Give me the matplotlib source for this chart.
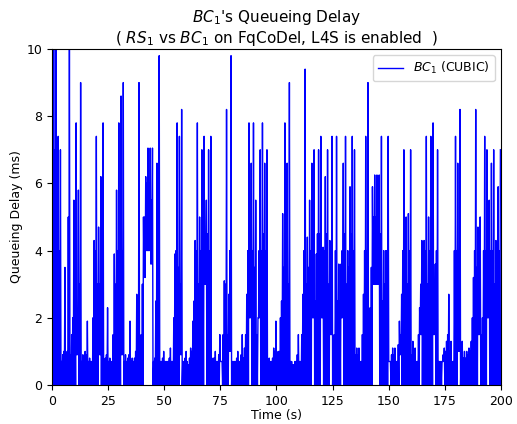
import numpy as np
import matplotlib
matplotlib.use("Agg")
import matplotlib.pyplot as plt

# per-second readings of BC1 queueing delay (ms), t = 0..199 s
time_s = np.arange(200)

# highest spike in each second
peak_ms = [
    10.2, 10.2, 7.4, 7.0, 0.9, 3.5, 1.0, 10.2, 1.5, 5.5,
    7.8, 5.8, 9.0, 0.9, 1.0, 1.9, 0.8, 0.7, 4.3, 7.4,
    4.7, 6.2, 7.8, 0.8, 2.3, 0.8, 0.7, 3.9, 5.8, 7.8,
    8.6, 9.0, 0.9, 0.8, 1.9, 0.8, 0.8, 2.7, 9.0, 1.5,
    5.0, 6.2, 7.05, 7.05, 7.05, 0.8, 6.6, 9.8, 0.7, 1.0,
    0.7, 0.7, 1.1, 0.7, 3.9, 7.8, 7.4, 8.2, 0.7, 1.0,
    0.6, 1.1, 1.9, 4.3, 7.8, 5.0, 7.0, 7.4, 5.5, 7.0,
    7.4, 0.8, 1.0, 0.7, 1.5, 0.7, 3.1, 8.2, 2.7, 9.8,
    0.7, 0.7, 1.0, 0.7, 1.5, 1.1, 2.7, 7.8, 6.6, 7.8,
    5.5, 2.0, 7.0, 7.8, 6.6, 7.0, 0.8, 0.7, 1.1, 1.9,
    1.0, 2.0, 5.1, 7.8, 6.6, 9.0, 0.7, 0.6, 0.7, 1.5,
    0.7, 2.7, 9.4, 4.4, 5.5, 6.6, 7.0, 3.9, 7.0, 7.4,
    4.1, 6.2, 7.0, 4.3, 7.4, 1.5, 7.4, 3.6, 3.6, 6.6,
    7.4, 4.0, 5.9, 7.4, 7.0, 1.1, 1.1, 0.7, 2.7, 7.4,
    9.0, 2.3, 5.9, 6.25, 6.25, 6.25, 7.4, 4.0, 4.0, 7.4,
    0.7, 1.1, 1.1, 0.7, 1.9, 2.7, 7.0, 5.0, 5.1, 7.0,
    1.3, 1.1, 0.7, 2.3, 4.3, 4.3, 7.4, 5.0, 7.4, 7.8,
    3.6, 7.0, 0.7, 0.7, 1.1, 1.3, 2.7, 1.3, 0.7, 7.4,
    6.6, 8.2, 1.3, 1.0, 1.0, 1.1, 1.3, 3.2, 8.2, 4.7,
    5.0, 2.0, 7.4, 7.0, 5.5, 6.6, 7.0, 4.3, 5.9, 7.0,
]

# level reached by the dense jitter in each second
base_ms = [
    7.0, 7.0, 5.0, 4.0, 0.7, 1.0, 0.7, 5.0, 0.9, 2.0,
    3.0, 2.0, 3.0, 0.7, 0.7, 0.9, 0.7, 0.7, 2.0, 4.0,
    3.0, 3.0, 4.0, 0.7, 0.9, 0.7, 0.7, 1.5, 3.0, 4.0,
    4.0, 4.0, 0.7, 0.7, 0.9, 0.7, 0.7, 1.0, 2.0, 0.9,
    3.0, 5.0, 6.0, 6.0, 5.5, 0.7, 2.5, 3.0, 0.7, 0.8,
    0.7, 0.7, 0.8, 0.7, 2.0, 4.0, 3.5, 3.0, 0.7, 0.8,
    0.7, 0.8, 1.0, 2.5, 4.0, 3.0, 4.0, 4.0, 4.5, 4.5,
    4.0, 0.7, 0.8, 0.7, 0.9, 0.7, 1.5, 3.0, 1.5, 4.0,
    0.7, 0.7, 0.8, 0.7, 0.9, 0.8, 1.5, 4.0, 4.0, 4.0,
    3.5, 1.5, 4.0, 4.0, 4.5, 4.0, 0.7, 0.7, 0.8, 1.0,
    0.8, 1.0, 2.5, 3.5, 3.0, 3.0, 0.7, 0.6, 0.7, 0.9,
    0.7, 1.5, 4.0, 3.0, 3.5, 4.0, 4.5, 2.5, 4.5, 4.5,
    3.0, 4.0, 4.5, 3.0, 4.0, 1.0, 4.0, 2.5, 2.5, 4.0,
    4.5, 3.0, 3.5, 4.5, 4.0, 0.9, 0.9, 0.7, 1.5, 4.0,
    4.0, 1.5, 3.5, 5.0, 5.0, 5.0, 4.5, 2.5, 3.0, 4.0,
    0.7, 0.9, 0.9, 0.7, 1.2, 1.5, 4.0, 3.5, 3.0, 4.0,
    0.9, 0.9, 0.7, 1.5, 3.0, 3.0, 4.0, 3.0, 4.0, 4.5,
    2.5, 4.0, 0.7, 0.7, 0.9, 1.0, 1.5, 1.0, 0.7, 4.0,
    4.0, 4.0, 1.0, 0.8, 0.8, 0.9, 1.0, 2.0, 4.0, 3.5,
    3.5, 1.5, 4.0, 4.0, 3.5, 4.0, 4.0, 3.0, 3.5, 4.0,
]

# lowest value in each second
floor_ms = [
    0, 0, 0, 0, 0, 0, 0, 0, 0, 0,
    0, 0.9, 0, 0, 0, 0, 0, 0, 0, 0,
    0, 0.9, 0, 0, 0, 0, 0, 0, 0, 0,
    0, 0.9, 0, 0, 0, 0, 0, 0, 0, 0,
    0, 3.2, 4.0, 4.0, 3.6, 0, 0, 0, 0, 0,
    0, 0, 0, 0, 0, 0, 0, 0.9, 0, 0,
    0, 0, 0, 0, 0, 0, 0, 0, 3.0, 0,
    0, 0, 0, 0, 0, 0.7, 0, 0, 0, 1.0,
    0, 0, 0, 0, 0, 0, 0, 0, 2.0, 0,
    0, 0, 2.0, 0, 0, 0, 0, 0, 0, 0,
    0, 0, 0, 0, 0, 0, 0, 0, 0, 0,
    0, 0, 0, 0, 0, 0, 2.0, 0, 0, 0,
    2.0, 0, 0, 0, 1.5, 0, 0, 0, 0, 2.0,
    0, 0, 0, 0, 0, 0, 0, 0, 0, 0,
    0, 0, 0, 3.0, 3.0, 3.0, 0, 0, 0, 0,
    0.7, 0, 0, 0, 0, 0.9, 0, 0, 0, 0,
    0, 0, 0, 0, 1.5, 0, 0, 0, 0, 0,
    1.5, 0, 0, 0, 0.7, 0, 0, 0, 0, 0,
    0, 1.0, 0, 0, 0, 0, 0, 0, 0, 0,
    1.5, 0, 0, 0, 2.0, 0, 0, 0, 0, 0,
]

# trough, jitter, trough, spike inside each second
t = np.column_stack([time_s, time_s + 0.25, time_s + 0.5, time_s + 0.75]).ravel()
delay = np.column_stack([floor_ms, base_ms, floor_ms, peak_ms]).ravel()

fig = plt.figure(figsize=(5.17, 4.24), dpi=100)
ax = fig.add_axes([0.1006, 0.092, 0.8684, 0.7925])
ax.plot(t, delay, color="blue", lw=1.0, label="$BC_1$ (CUBIC)")
ax.set_xlim(0, 200)
ax.set_ylim(0, 10)
ax.set_xlabel("Time (s)", fontsize=9, labelpad=1)
ax.set_ylabel("Queueing Delay (ms)", fontsize=9, labelpad=2.5)
ax.tick_params(labelsize=9)
ax.set_title("$BC_1$'s Queueing Delay\n( $RS_1$ vs $BC_1$ on FqCoDel, L4S is enabled  )",
             fontsize=11, pad=4)
ax.legend(loc="upper right", fontsize=9)
fig.savefig("out.png", dpi=100)
